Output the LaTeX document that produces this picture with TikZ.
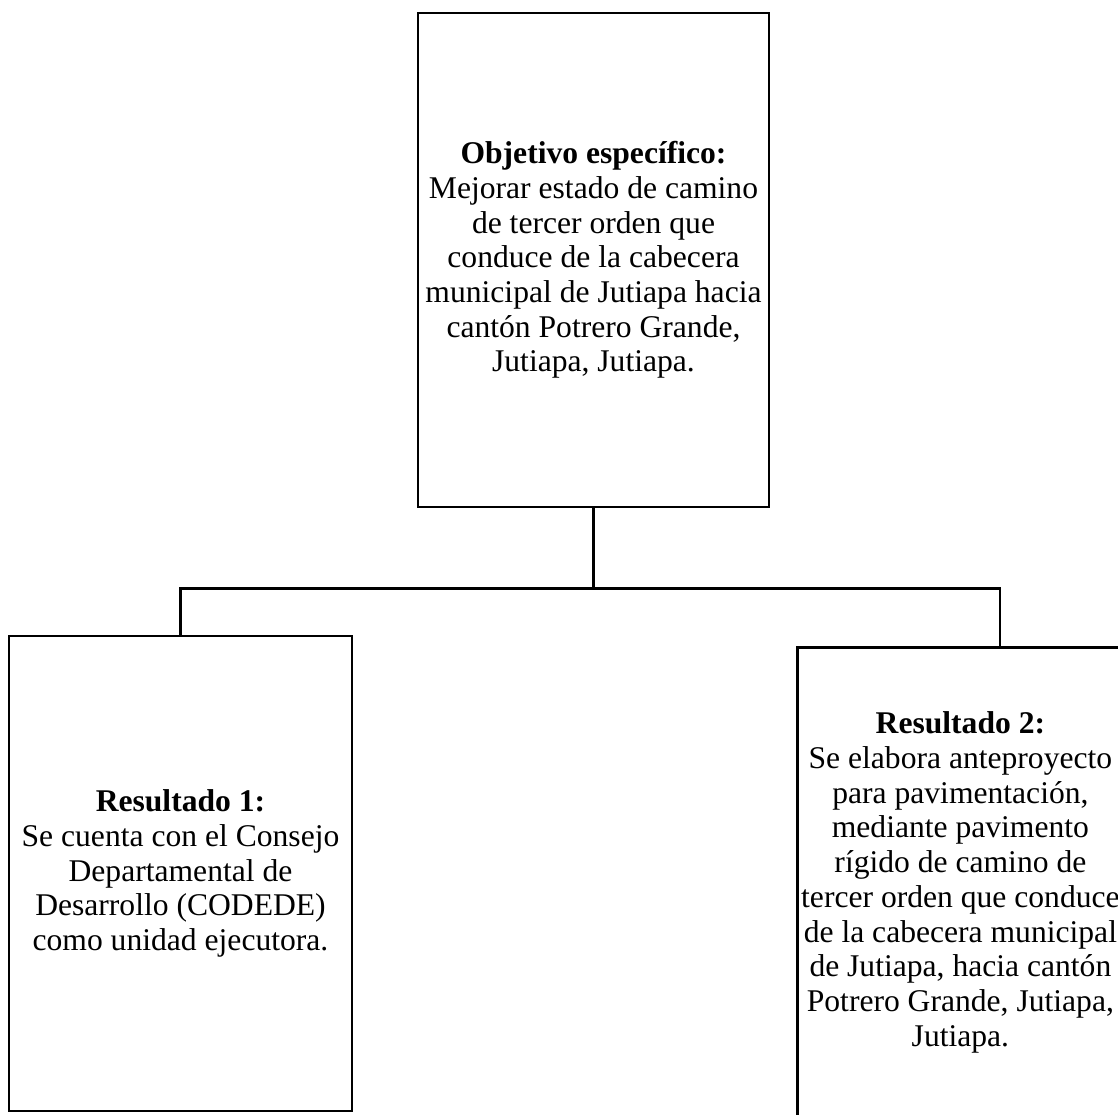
\documentclass[tikz,border=0pt]{standalone}
\usepackage{fontspec}
\setmainfont{Liberation Serif}
\usetikzlibrary{positioning,calc}
\tikzset{
  caja/.style={draw, line width=2.8pt, align=center, inner sep=2pt,
    font=\fontsize{31.6}{34.7}\selectfont},
  enlace/.style={line width=2.8pt}
}

\begin{document}
\begin{tikzpicture}[x=1pt,y=-1pt]
  \useasboundingbox (0,0) rectangle (1118,1114);
  \clip (0,0) rectangle (1118,1114);

  % objetivo
  \node[caja, minimum width=351pt, minimum height=494pt] (objetivo) at (593.5,260)
    {\textbf{Objetivo específico:}\\Mejorar estado de camino\\de tercer orden que\\conduce de la cabecera\\municipal de Jutiapa hacia\\cantón Potrero Grande,\\Jutiapa, Jutiapa.};

  % resultados
  \node[caja, minimum width=343pt, minimum height=475pt] (res1) at (180.5,873.5)
    {\textbf{Resultado 1:}\\Se cuenta con el Consejo\\Departamental de\\Desarrollo (CODEDE)\\como unidad ejecutora.};
  \node[caja, anchor=north west, minimum width=326pt, minimum height=470pt] (res2) at (796,646)
    {\textbf{Resultado 2:}\\Se elabora anteproyecto\\para pavimentación,\\mediante pavimento\\rígido de camino de\\tercer orden que conduce\\de la cabecera municipal\\de Jutiapa, hacia cantón\\Potrero Grande, Jutiapa,\\Jutiapa.};

  % conectores
  \coordinate (bus) at ($(objetivo.south)+(0,80)$);
  \coordinate (bajada) at ($(res2.north west)+(204,0)$);
  \draw[enlace] (objetivo.south) -- (bus);
  \draw[enlace] (res1.north) |- (bus) -| (bajada);
\end{tikzpicture}
\end{document}
